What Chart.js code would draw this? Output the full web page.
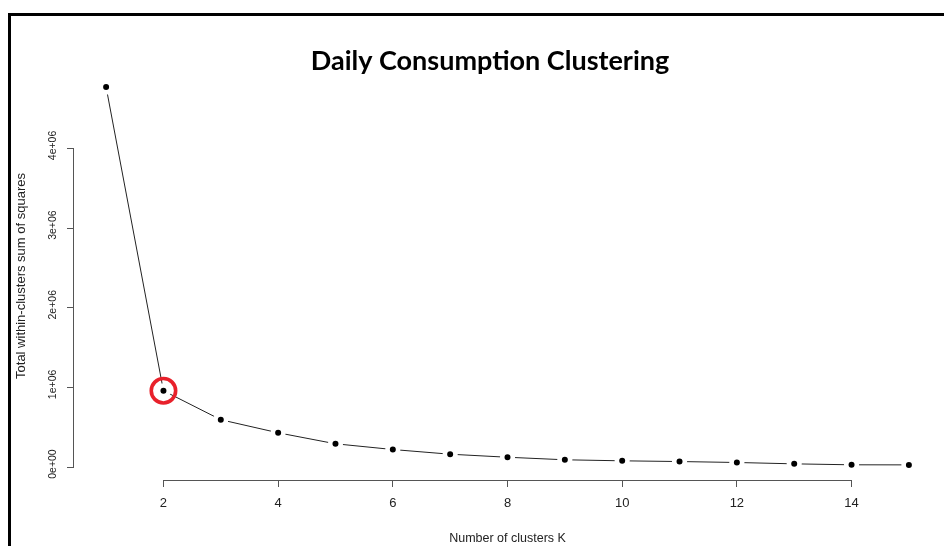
<!DOCTYPE html>
<html>
<head>
<meta charset="utf-8">
<script src="https://cdn.jsdelivr.net/npm/chart.js@4.4.1/dist/chart.umd.min.js"></script>
<style>
    html, body { margin: 0; padding: 0; background: #fff; overflow: hidden; }
    #wrap { position: relative; width: 944px; height: 546px; overflow: hidden; }
    #frame { position: absolute; left: 8px; top: 13px; width: 960px; height: 560px;
             border-top: 3px solid #000; border-left: 3px solid #000; pointer-events: none; }
    canvas { position: absolute; left: 0; top: 0; }
</style>
</head>
<body>
<div id="wrap">
    <canvas id="elbow" width="944" height="546"></canvas>
    <div id="frame"></div>
</div>
<script>
// Elbow data: total within-cluster sum of squares for each K
const kValues = [1, 2, 3, 4, 5, 6, 7, 8, 9, 10, 11, 12, 13, 14, 15];
const wssValues = [4770000, 958000, 594000, 430000, 292000, 220000, 161000, 123000,
                   91000, 78000, 69000, 57000, 40000, 28000, 27000];
const elbowK = [2];
const xTickValues = [2, 4, 6, 8, 10, 12, 14];
const yTickValues = [0, 1000000, 2000000, 3000000, 4000000];
const yTickLabels = ['0e+00', '1e+06', '2e+06', '3e+06', '4e+06'];

const chartTitle = 'Daily Consumption Clustering';
const xTitle = 'Number of clusters K';
const yTitle = 'Total within-clusters sum of squares';

// R pads the data range by 4% on each side
function padRange(values) {
    const lo = Math.min(...values), hi = Math.max(...values);
    const d = (hi - lo) * 0.04;
    return [lo - d, hi + d];
}
const [xMin, xMax] = padRange(kValues);
const [yMin, yMax] = padRange(wssValues);

const points = kValues.map((k, i) => ({ x: k, y: wssValues[i] }));
const elbowPoints = elbowK.map(k => ({ x: k, y: wssValues[kValues.indexOf(k)] }));

// Draws R-style axis lines (first to last tick), rotated y labels and the title
const baseAxes = {
    id: 'baseAxes',
    afterDraw(chart) {
        const { ctx, chartArea, scales } = chart;
        const xs = scales.x, ys = scales.y;
        ctx.save();
        ctx.strokeStyle = '#555';
        ctx.lineWidth = 1;
        ctx.beginPath();
        ctx.moveTo(xs.getPixelForValue(xTickValues[0]), chartArea.bottom + 0.5);
        ctx.lineTo(xs.getPixelForValue(xTickValues[xTickValues.length - 1]), chartArea.bottom + 0.5);
        ctx.moveTo(chartArea.left - 0.5, ys.getPixelForValue(yTickValues[0]));
        ctx.lineTo(chartArea.left - 0.5, ys.getPixelForValue(yTickValues[yTickValues.length - 1]));
        ctx.stroke();

        ctx.fillStyle = '#222';
        ctx.font = '10.5px "Liberation Sans", Arial, sans-serif';
        ctx.textAlign = 'center';
        ctx.textBaseline = 'middle';
        yTickValues.forEach((v, i) => {
            ctx.save();
            ctx.translate(chartArea.left - 21, ys.getPixelForValue(v) - 3);
            ctx.rotate(-Math.PI / 2);
            ctx.fillText(yTickLabels[i], 0, 0);
            ctx.restore();
        });

        ctx.fillStyle = '#000';
        ctx.font = 'bold 27px Lato, "Open Sans", sans-serif';
        ctx.fillText(chartTitle, 490, 61);
        ctx.restore();
    }
};

const chart = new Chart(document.getElementById('elbow'), {
    type: 'scatter',
    data: {
        datasets: [
            {
                label: 'Elbow',
                data: elbowPoints,
                showLine: false,
                pointRadius: 12.2,
                pointBorderWidth: 3.6,
                pointBorderColor: '#e8212b',
                pointBackgroundColor: 'rgba(0,0,0,0)',
                order: 0
            },
            {
                label: 'WSS',
                data: points,
                showLine: true,
                borderColor: '#222',
                borderWidth: 1,
                pointRadius: 5.3,
                pointBorderWidth: 4.6,
                pointBackgroundColor: '#000',
                pointBorderColor: '#fff',
                tension: 0,
                order: 1
            }
        ]
    },
    options: {
        responsive: false,
        animation: false,
        events: [],
        layout: { autoPadding: false, padding: { left: 10, right: 3, top: 72, bottom: 0 } },
        plugins: {
            legend: { display: false },
            tooltip: { enabled: false },
            title: { display: false }
        },
        scales: {
            x: {
                type: 'linear',
                min: xMin,
                max: xMax,
                afterBuildTicks: (scale) => { scale.ticks = xTickValues.map(v => ({ value: v })); },
                afterFit: (scale) => { scale.height = 66; scale.paddingLeft = 0; scale.paddingRight = 0; },
                grid: { drawOnChartArea: false, drawTicks: true, tickLength: 7, color: '#555' },
                border: { display: false },
                ticks: {
                    color: '#222',
                    padding: 9,
                    maxRotation: 0,
                    font: { family: '"Liberation Sans", Arial, sans-serif', size: 13 }
                },
                title: {
                    display: true,
                    text: xTitle,
                    color: '#222',
                    padding: { top: 10, bottom: 0 },
                    font: { family: '"Liberation Sans", Arial, sans-serif', size: 12.5 }
                }
            },
            y: {
                type: 'linear',
                min: yMin,
                max: yMax,
                afterBuildTicks: (scale) => { scale.ticks = yTickValues.map(v => ({ value: v })); },
                afterFit: (scale) => { scale.width = 64; scale.paddingTop = 0; scale.paddingBottom = 0; },
                grid: { drawOnChartArea: false, drawTicks: true, tickLength: 7, color: '#555' },
                border: { display: false },
                ticks: { display: false },
                title: {
                    display: true,
                    text: yTitle,
                    color: '#222',
                    padding: { top: 4, bottom: 0 },
                    font: { family: '"Liberation Sans", Arial, sans-serif', size: 13 }
                }
            }
        }
    },
    plugins: [baseAxes]
});
</script>
</body>
</html>
